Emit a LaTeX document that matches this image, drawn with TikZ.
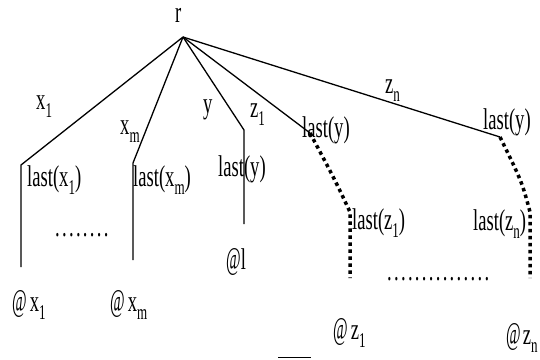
\documentclass[tikz,border=0pt]{standalone}
\usepackage{fontspec}
\usepackage{graphicx}
\setmainfont{Liberation Serif}[FakeStretch=0.62]
\newcommand\lo[1]{\raisebox{-8pt}{\fontsize{21}{21}\selectfont #1}}
\newcommand\at{\scalebox{0.85}[1.05]{@}}
\newcommand\dt{.\kern2.3pt}
\begin{document}
\begin{tikzpicture}[x=1pt,y=-1pt,
  lbl/.style={inner sep=0pt,anchor=base west,font=\fontsize{30}{32}\selectfont},
  edge/.style={line width=1.3pt},
  dotline/.style={line width=3.5pt,dash pattern=on 3.5pt off 3.5pt}]
\useasboundingbox (0,0) rectangle (540,359);
% corner points
\coordinate (root) at (183,37);
\coordinate (cx1) at (21,165);  \coordinate (ex1) at (21,267);
\coordinate (cxm) at (133,163); \coordinate (exm) at (133,260);
\coordinate (cy)  at (244,130); \coordinate (ey)  at (244,224);
\coordinate (cz1) at (310,133); \coordinate (mz1) at (350,212); \coordinate (ez1) at (350,278);
\coordinate (czn) at (500,137); \coordinate (mzn) at (530,212); \coordinate (ezn) at (530,278);
\coordinate (bl1) at (278,357); \coordinate (bl2) at (311,357);
% solid edges
\draw[edge] (root) -- (cx1) -- (ex1);
\draw[edge] (root) -- (cxm) -- (exm);
\draw[edge] (root) -- (cy) -- (ey);
\draw[edge] (root) -- (cz1);
\draw[edge] (root) -- (czn);
% dotted paths
\draw[dotline] (cz1) .. controls (335,180) .. (mz1) -- (ez1);
\draw[dotline] (czn) .. controls (522,182) .. (mzn) -- (ezn);
\draw[line width=1pt] (bl1) -- (bl2);
% labels
\node[lbl] (r) at (175,22) {r};
\node[lbl] (lx1) at (36,109) {x\lo{1}};
\node[lbl] (lxm) at (120,134) {x\lo{m}};
\node[lbl] (ly) at (203,113) {y};
\node[lbl] (lz1) at (250,117) {z\lo{1}};
\node[lbl] (lzn) at (385,93) {z\lo{n}};
\node[lbl] (ly1) at (302,137) {last(y)};
\node[lbl] (ly2) at (483,129) {last(y)};
\node[lbl] (ly3) at (218,176) {last(y)};
\node[lbl] (llx1) at (27,186) {last(x\lo{1})};
\node[lbl] (llxm) at (133,186) {last(x\lo{m})};
\node[lbl] (llz1) at (352,229) {last(z\lo{1})};
\node[lbl] (llzn) at (473,230) {last(z\lo{n})};
\node[lbl] (ax1) at (12,311) {\at\kern3pt x\lo{1}};
\node[lbl] (axm) at (110,311) {\at\kern3pt x\lo{m}};
\node[lbl] (al) at (226,269) {\at l};
\node[lbl] (az1) at (333,339) {\at\kern3pt z\lo{1}};
\node[lbl] (azn) at (506,344) {\at\kern2pt z\lo{n}};
\node[lbl] (d1) at (55,236) {\dt\dt\dt\dt\dt\dt\dt.};
\node[lbl] (d2) at (387,280) {\dt\dt\dt\dt\dt\dt\dt\dt\dt\dt\dt\dt\dt\dt.};
\end{tikzpicture}
\end{document}
